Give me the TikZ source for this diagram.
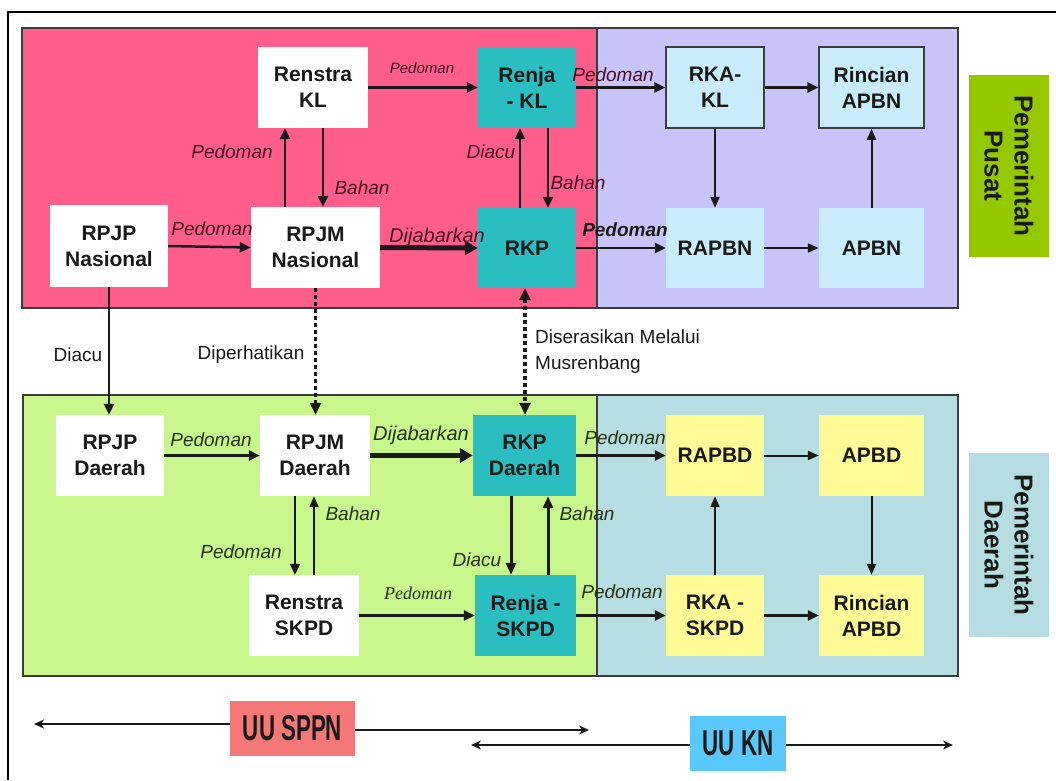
\documentclass[tikz,border=0pt]{standalone}
\usepackage{fontspec}
\setmainfont{Liberation Sans}
\newfontfamily\serifface{Liberation Serif}
\usetikzlibrary{arrows.meta}
\definecolor{pinkbg}{RGB}{255,94,140}
\definecolor{purplebg}{RGB}{200,196,250}
\definecolor{greenbg}{RGB}{200,246,140}
\definecolor{tealbg}{RGB}{182,222,226}
\definecolor{tealnode}{RGB}{42,190,192}
\definecolor{lbluenode}{RGB}{200,236,250}
\definecolor{yellownode}{RGB}{255,250,150}
\definecolor{pusatbg}{RGB}{150,200,0}
\definecolor{daerahbg}{RGB}{182,222,226}
\definecolor{sppnbg}{RGB}{245,120,120}
\definecolor{knbg}{RGB}{90,200,250}
\definecolor{ink}{RGB}{25,25,25}
\definecolor{pinkink}{RGB}{70,15,35}
\definecolor{greenink}{RGB}{35,50,20}
\definecolor{edgegray}{RGB}{60,60,60}
\newcommand{\nodefnt}{\fontsize{21}{26}\selectfont\bfseries}
\newcommand{\lblfnt}{\fontsize{19}{23}\selectfont\itshape}
\begin{document}
\begin{tikzpicture}[x=1pt,y=-1pt,
  sz/.style 2 args={minimum width=#1pt,minimum height=#2pt},
  box/.style={inner sep=0pt, align=center, font=\nodefnt, text=ink},
  wbox/.style={box, fill=white},
  tbox/.style={box, fill=tealnode},
  bbox/.style={box, fill=lbluenode},
  bboxd/.style={bbox, draw=edgegray, line width=1.5pt},
  ybox/.style={box, fill=yellownode},
  region/.style={draw=edgegray, line width=1.5pt},
  lbl/.style={font=\lblfnt, inner sep=0pt, text=ink},
  plbl/.style={lbl, text=pinkink},
  glbl/.style={lbl, text=greenink},
  plainlbl/.style={font=\fontsize{19}{26}\selectfont, inner sep=0pt, text=ink, align=left},
  arr/.style={draw=ink, line width=2.5pt, -{Triangle[length=11pt,width=10pt]}},
  thinarr/.style={draw=ink, line width=2pt, -{Triangle[length=11pt,width=9pt]}},
  thickarr/.style={draw=ink, line width=5pt, -{Triangle[length=13pt,width=14pt]}},
  medarr/.style={draw=ink, line width=3pt, -{Triangle[length=12pt,width=10pt]}},
  dotarr/.style={draw=ink, line width=3.5pt, dash pattern=on 3.5pt off 3.5pt, -{Triangle[length=12pt,width=11pt]}},
  dotarrb/.style={draw=ink, line width=3.5pt, dash pattern=on 3.5pt off 3.5pt, {Triangle[length=12pt,width=11pt]}-{Triangle[length=12pt,width=11pt]}},
  legarr/.style={draw=ink, line width=1.8pt, -{Stealth[length=10pt,width=9pt]}},
  sidelbl/.style={inner sep=0pt, align=center, font=\fontsize{26}{30}\selectfont\bfseries, text=ink, rotate=-90},
  legbox/.style={inner sep=0pt, font=\fontsize{36}{40}\selectfont\bfseries, text=ink}
]
\useasboundingbox (0,0) rectangle (1056,780);
\fill[white] (0,0) rectangle (1056,780);
% outer frame
\draw[line width=2pt, black] (8,780) -- (8,12) -- (1056,12);
% regions
\fill[pinkbg] (22,28) rectangle (597,308);
\fill[purplebg] (597,28) rectangle (958,308);
\draw[region] (22,28) rectangle (597,308);
\draw[region] (597,28) rectangle (958,308);
\fill[greenbg] (23,395) rectangle (597,676);
\fill[tealbg] (597,395) rectangle (958,676);
\draw[region] (23,395) rectangle (597,676);
\draw[region] (597,395) rectangle (958,676);

% side labels
\node[fill=pusatbg, sz={80}{182}, inner sep=0pt] (pusatbox) at (1009,166) {};
\node[sidelbl] (pusattxt) at (pusatbox.center) {Pemerintah\\Pusat};
\node[fill=daerahbg, sz={80}{184}, inner sep=0pt] (daerahbox) at (1009,545) {};
\node[sidelbl] (daerahtxt) at (daerahbox.center) {Pemerintah\\Daerah};

% top nodes
\node[wbox, sz={110}{81}] (renstrakl) at (313,87.5) {Renstra\\KL};
\node[tbox, sz={98}{81}] (renjakl) at (527,87.5) {Renja\\- KL};
\node[bboxd, sz={98}{81}] (rkakl) at (715,87.5) {RKA-\\KL};
\node[bboxd, sz={105}{81}] (rincianapbn) at (871.5,87.5) {Rincian\\APBN};
\node[wbox, sz={118}{82}] (rpjpn) at (109,246) {RPJP\\Nasional};
\node[wbox, sz={129}{81}] (rpjmn) at (315.5,247.5) {RPJM\\Nasional};
\node[tbox, sz={98}{80}] (rkp) at (527,248) {RKP};
\node[bbox, sz={98}{80}] (rapbn) at (715,248) {RAPBN};
\node[bbox, sz={105}{80}] (apbn) at (871.5,248) {APBN};

% bottom nodes
\node[wbox, sz={108}{81}] (rpjpd) at (110,455.5) {RPJP\\Daerah};
\node[wbox, sz={110}{81}] (rpjmd) at (315,455.5) {RPJM\\Daerah};
\node[tbox, sz={103}{81}] (rkpd) at (524.5,455.5) {RKP\\Daerah};
\node[ybox, sz={98}{81}] (rapbd) at (715,455.5) {RAPBD};
\node[ybox, sz={105}{81}] (apbd) at (871.5,455.5) {APBD};
\node[wbox, sz={110}{81}] (renstraskpd) at (304,615.5) {Renstra\\SKPD};
\node[tbox, sz={101}{81}] (renjaskpd) at (525.5,615.5) {Renja -\\SKPD};
\node[ybox, sz={98}{81}] (rkaskpd) at (715,615.5) {RKA -\\SKPD};
\node[ybox, sz={105}{81}] (rincianapbd) at (871.5,615.5) {Rincian\\APBD};

% top connectors
\draw[arr] (renstrakl.east) -- (renjakl.west);
\draw[arr] (renjakl.east) -- (rkakl.west);
\draw[arr] (rkakl.east) -- (rincianapbn.west);
\draw[thinarr] (rkakl.south) -- (rapbn.north);
\draw[thinarr] (apbn.north) -- (rincianapbn.south);
\draw[thinarr] (rapbn.east) -- (apbn.west);
\draw[arr] (rkp.east) -- (rapbn.west);
\draw[arr] ([xshift=-30.5pt]rpjmn.north) -- ([xshift=-28pt]renstrakl.south);
\draw[arr] ([xshift=10pt]renstrakl.south) -- ([xshift=7.5pt]rpjmn.north);
\draw[arr] (rpjpn.east) -- (rpjmn.west);
\draw[thickarr] (rpjmn.east) -- (rkp.west);
\draw[arr] ([xshift=-7pt]rkp.north) -- ([xshift=-7pt]renjakl.south);
\draw[arr] ([xshift=21pt]renjakl.south) -- ([xshift=21pt]rkp.north);

% middle connectors
\draw[arr] (rpjpn.south) -- (rpjpn.south |- rpjpd.north);
\draw[dotarr] (rpjmn.south) -- (rpjmn.south |- rpjmd.north);
\draw[dotarrb] ([xshift=-2pt]rkp.south) -- ([xshift=-2pt]rkp.south |- rkpd.north);

% bottom connectors
\draw[arr] (rpjpd.east) -- (rpjmd.west);
\draw[thickarr] (rpjmd.east) -- (rkpd.west);
\draw[arr] (rkpd.east) -- (rapbd.west);
\draw[thinarr] (rapbd.east) -- (apbd.west);
\draw[thinarr] (apbd.south) -- (rincianapbd.north);
\draw[thinarr] (rkaskpd.north) -- (rapbd.south);
\draw[arr] (rkaskpd.east) -- (rincianapbd.west);
\draw[arr] (renjaskpd.east) -- (rkaskpd.west);
\draw[arr] (renstraskpd.east) -- (renjaskpd.west);
\draw[arr] ([xshift=-20pt]rpjmd.south) -- ([xshift=-9pt]renstraskpd.north);
\draw[thinarr] ([xshift=10pt]renstraskpd.north) -- ([xshift=-1pt]rpjmd.south);
\draw[medarr] ([xshift=-13.5pt]rkpd.south) -- ([xshift=-14.5pt]renjaskpd.north);
\draw[medarr] ([xshift=22.5pt]renjaskpd.north) -- ([xshift=23.5pt]rkpd.south);

% labels top
\node[plbl, font=\fontsize{15}{18}\selectfont\itshape] (l1) at (422,68) {Pedoman};
\node[plbl] (l2) at (613,75) {Pedoman};
\node[plbl] (l3) at (232,152) {Pedoman};
\node[plbl] (l4) at (362,188) {Bahan};
\node[plbl] (l5) at (212,229) {Pedoman};
\node[plbl, font=\fontsize{20}{24}\selectfont\itshape] (l6) at (437,237) {Dijabarkan};
\node[plbl] (l7) at (491,152) {Diacu};
\node[plbl] (l8) at (578,183) {Bahan};
\node[lbl, font=\fontsize{19}{23}\selectfont\bfseries\itshape] (l9) at (625,230) {Pedoman};
% labels middle
\node[plainlbl] (l10) at (78,355) {Diacu};
\node[plainlbl] (l11) at (251,355) {Diperhatikan};
\node[plainlbl, anchor=west] (l12) at (535,352) {Diserasikan Melalui\\Musrenbang};
% labels bottom
\node[glbl] (l13) at (211,440) {Pedoman};
\node[glbl, font=\fontsize{20}{24}\selectfont\itshape] (l14) at (421,435) {Dijabarkan};
\node[glbl] (l15) at (625,438) {Pedoman};
\node[glbl] (l16) at (353,514) {Bahan};
\node[glbl] (l17) at (241,552) {Pedoman};
\node[glbl] (l18) at (477,560) {Diacu};
\node[glbl] (l19) at (587,514) {Bahan};
\node[glbl, font=\serifface\fontsize{18}{22}\selectfont\itshape] (l20) at (418,593) {Pedoman};
\node[glbl] (l21) at (622,592) {Pedoman};

% legend
\node[legbox, fill=sppnbg, sz={125}{55}] (uusppn) at (292.5,728) {\scalebox{0.62}[1]{UU SPPN}};
\node[legbox, fill=knbg, sz={96}{55}] (uukn) at (738,743.5) {\scalebox{0.62}[1]{UU KN}};
\coordinate (sppnL) at (34,724);
\coordinate (sppnR) at (589,730);
\coordinate (knL) at (471,745);
\coordinate (knR) at (953,745);
\draw[legarr] (uusppn.west |- sppnL) -- (sppnL);
\draw[legarr] (uusppn.east |- sppnR) -- (sppnR);
\draw[legarr] (uukn.west |- knL) -- (knL);
\draw[legarr] (uukn.east |- knR) -- (knR);
\end{tikzpicture}
\end{document}
